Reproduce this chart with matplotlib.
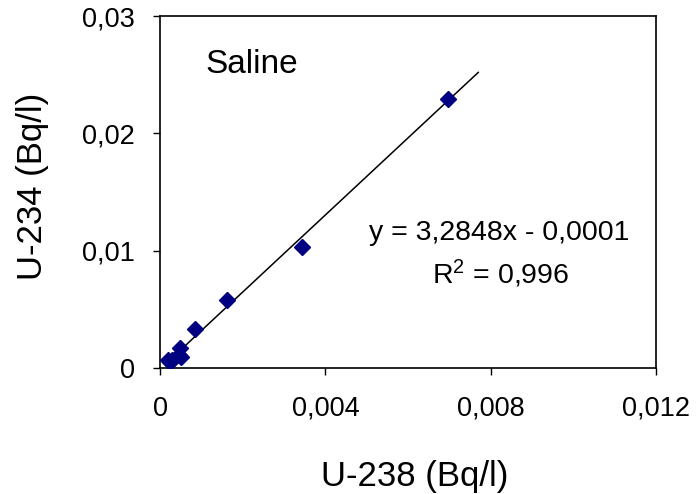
import matplotlib
matplotlib.use("Agg")
import matplotlib.pyplot as plt
import numpy as np
from matplotlib.ticker import FuncFormatter

plt.rcParams['font.family'] = ['Liberation Sans', 'DejaVu Sans']
plt.rcParams['mathtext.fontset'] = 'custom'
plt.rcParams['mathtext.rm'] = 'Liberation Sans'
plt.rcParams['mathtext.it'] = 'Liberation Sans'
plt.rcParams['mathtext.default'] = 'regular'

# data (Bq/l)
u238 = [0.00696, 0.00343, 0.00162, 0.00085, 0.00048, 0.00052, 0.00045, 0.00030, 0.00020, 0.00025]
u234 = [0.02290, 0.01030, 0.00580, 0.00330, 0.00170, 0.00090, 0.00110, 0.00070, 0.00066, 0.00050]

slope = 3.2848
intercept = -0.0001
trend_x_end = 0.0077

x_ticks = [0, 0.004, 0.008, 0.012]
y_ticks = [0, 0.01, 0.02, 0.03]

W, H = 696, 494
fig = plt.figure(figsize=(W/100, H/100), dpi=100)
ax = fig.add_axes([160/W, 1-368/H, 496/W, 352/H])

xs = np.array([min(u238), trend_x_end])
ax.plot(xs, slope*xs + intercept, color='black', lw=1.1, zorder=2)
ax.plot(u238, u234, linestyle='none', marker='D', markersize=8.5, color='#000080', zorder=3)

ax.set_xlim(0, 0.012)
ax.set_ylim(0, 0.03)
ax.set_xticks(x_ticks)
ax.set_yticks(y_ticks)

def fmt(v, pos):
    if v == 0:
        return '0'
    s = ('%.3f' % v).rstrip('0')
    return s.replace('.', ',')

ax.xaxis.set_major_formatter(FuncFormatter(fmt))
ax.yaxis.set_major_formatter(FuncFormatter(fmt))
ax.tick_params(direction='out', length=5, width=1, labelsize=19.5)
ax.tick_params(axis='x', pad=15)
ax.tick_params(axis='y', pad=13)
for s in ax.spines.values():
    s.set_linewidth(1.2)

fig.text(415/W, 1-486/H, 'U-238 (Bq/l)', fontsize=25, ha='center', va='baseline')
fig.text(33/W, 1-186/H, 'U-234 (Bq/l)', fontsize=25, ha='center', va='center', rotation=90)

ax.text((205-160)/496, (368-64)/352, 'Saline', transform=ax.transAxes, fontsize=24, va='center', ha='left')
ax.text((499-160)/496, (368-233)/352, 'y = 3,2848x - 0,0001', transform=ax.transAxes, fontsize=20.5, va='center', ha='center')
ax.text((501-160)/496, (368-274)/352, 'R$^2$ = 0,996', transform=ax.transAxes, fontsize=20.5, va='center', ha='center')

fig.savefig('out.png', dpi=100)
